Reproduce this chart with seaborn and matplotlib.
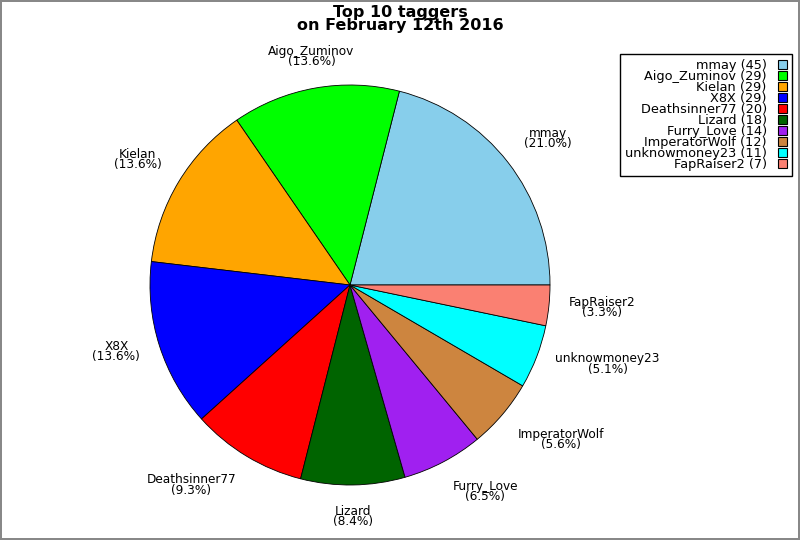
import numpy as np
import seaborn as sns
from matplotlib import pyplot as plt

sns.set_style("white")
plt.rcParams['font.family'] = ['DejaVu Sans']
plt.rcParams['text.color'] = 'black'

names = ["mmay", "Aigo_Zuminov", "Kielan", "X8X", "Deathsinner77",
         "Lizard", "Furry_Love", "ImperatorWolf", "unknowmoney23", "FapRaiser2"]
counts = [45, 29, 29, 29, 20, 18, 14, 12, 11, 7]
colors = ["#87ceeb", "#00ff00", "#ffa500", "#0000ff", "#ff0000",
          "#006400", "#a020f0", "#cd853f", "#00ffff", "#fa8072"]
title = "Top 10 taggers\non February 12th 2016"

total = sum(counts)
labels = [f"{n}\n({c / total * 100:.1f}%)" for n, c in zip(names, counts)]

fig = plt.figure(figsize=(8, 5.4), dpi=100)
fig.patch.set_edgecolor("#888888")
fig.patch.set_linewidth(1.5)
ax = fig.add_axes([0.125, 5 / 540, 0.625, 500 / 540])

wedges, texts = ax.pie(counts, labels=labels, colors=colors, startangle=0,
                       counterclock=True, labeldistance=1.1,
                       wedgeprops={"edgecolor": "black", "linewidth": 0.6},
                       textprops={"fontsize": 8.7, "color": "black"})
# label anchoring by octant, like the original
lim = np.sin(np.radians(22.5))
for w, t in zip(wedges, texts):
    ang = np.radians((w.theta1 + w.theta2) / 2)
    c, s = np.cos(ang), np.sin(ang)
    t.set_ha("left" if c > lim else "right" if c < -lim else "center")
    t.set_va("bottom" if s > lim else "top" if s < -lim else "center")
    t.set_multialignment("center")
    t.set_linespacing(0.72)

fig.suptitle(title, fontsize=11.5, fontweight="bold", y=0.99, va="top",
             linespacing=0.82, color="black")

leg = fig.legend(wedges, [f"{n} ({c})" for n, c in zip(names, counts)],
                 loc="upper right", bbox_to_anchor=(792 / 800, 1 - 54 / 540),
                 borderaxespad=0, fontsize=9.3, markerfirst=False,
                 handlelength=0.7, handleheight=0.7, handletextpad=0.85,
                 labelspacing=-0.16, borderpad=0.4, fancybox=False,
                 framealpha=1, edgecolor="black")
leg.get_frame().set_linewidth(1)
for h in leg.legend_handles:
    h.set_edgecolor("black")
    h.set_linewidth(0.8)

fig.savefig("out.png", dpi=100)
